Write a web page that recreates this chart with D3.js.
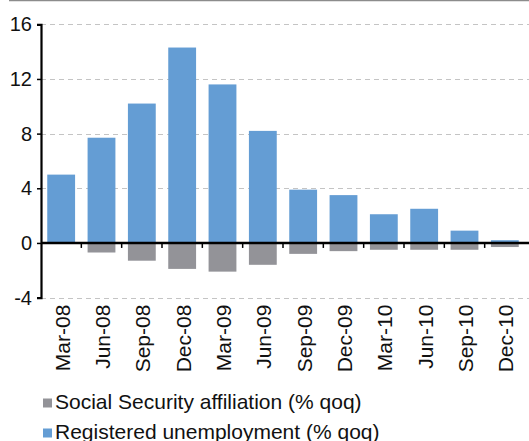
<!DOCTYPE html>
<html>
<head>
<meta charset="utf-8">
<script src="https://cdn.jsdelivr.net/npm/d3@7"></script>
<style>
  html, body { margin: 0; padding: 0; background: #fff; }
  svg { display: block; font-family: "Liberation Sans", Arial, sans-serif; }
</style>
</head>
<body>
<svg id="chart" width="529" height="441"></svg>
<script>
// Quarterly changes, % quarter-on-quarter
const quarters = ["Mar-08", "Jun-08", "Sep-08", "Dec-08", "Mar-09", "Jun-09",
                  "Sep-09", "Dec-09", "Mar-10", "Jun-10", "Sep-10", "Dec-10"];
const unemployment = [5.0, 7.7, 10.2, 14.3, 11.6, 8.2, 3.9, 3.5, 2.1, 2.5, 0.9, 0.2];
const affiliation  = [0.0, -0.7, -1.3, -1.9, -2.1, -1.6, -0.8, -0.6, -0.5, -0.5, -0.5, -0.3];
const yTicks = [-4, 0, 4, 8, 12, 16];
const seriesNames = ["Social Security affiliation (% qoq)", "Registered unemployment (% qoq)"];

const colors = { affiliation: "#939398", unemployment: "#649dd4" };

const svg = d3.select("#chart");
const plot = { left: 41, right: 525, top: 24.3, bottom: 297.6 };

const x = d3.scaleBand()
  .domain(quarters)
  .range([plot.left, plot.right])
  .paddingInner(0.31)
  .paddingOuter(0.155);

const y = d3.scaleLinear()
  .domain([-4, 16])
  .range([plot.bottom, plot.top]);

// frame line across the top
svg.append("line")
  .attr("x1", 9).attr("x2", 529)
  .attr("y1", 0.5).attr("y2", 0.5)
  .attr("stroke", "#8c8c8c").attr("stroke-width", 1.5);

// dashed horizontal gridlines
svg.append("g")
  .selectAll("line")
  .data(yTicks.filter(d => d !== 0))
  .join("line")
  .attr("x1", plot.left).attr("x2", 529)
  .attr("y1", d => Math.round(y(d)) + 0.5)
  .attr("y2", d => Math.round(y(d)) + 0.5)
  .attr("stroke", "#c4c4c4")
  .attr("stroke-dasharray", "5,4");

// unemployment bars
svg.append("g")
  .selectAll("rect")
  .data(quarters.map((q, i) => ({ q, v: unemployment[i] })))
  .join("rect")
  .attr("x", d => x(d.q))
  .attr("width", x.bandwidth())
  .attr("y", d => y(Math.max(0, d.v)))
  .attr("height", d => Math.abs(y(d.v) - y(0)))
  .attr("fill", colors.unemployment);

// affiliation bars
svg.append("g")
  .selectAll("rect")
  .data(quarters.map((q, i) => ({ q, v: affiliation[i] })))
  .join("rect")
  .attr("x", d => x(d.q))
  .attr("width", x.bandwidth())
  .attr("y", d => y(Math.max(0, d.v)))
  .attr("height", d => Math.abs(y(d.v) - y(0)))
  .attr("fill", colors.affiliation);

// y axis
const yAxis = d3.axisLeft(y)
  .tickValues(yTicks)
  .tickSize(4)
  .tickPadding(5)
  .tickFormat(d => String(d));

const gy = svg.append("g")
  .attr("transform", `translate(${plot.left},0)`)
  .call(yAxis);
gy.select(".domain").attr("stroke", "#000").attr("stroke-width", 2.2);
gy.selectAll(".tick line").attr("stroke", "#000").attr("stroke-width", 1.5);
gy.selectAll(".tick text")
  .attr("fill", "#111")
  .style("font-size", "20px")
  .attr("x", -9);

// zero line with ticks between categories
const gx = svg.append("g")
  .attr("transform", `translate(0,${y(0)})`);
gx.append("line")
  .attr("x1", plot.left).attr("x2", 529)
  .attr("stroke", "#000").attr("stroke-width", 2.4);
gx.selectAll(".sep")
  .data(quarters.slice(1))
  .join("line")
  .attr("class", "sep")
  .attr("x1", d => x(d) - x.step() * x.paddingInner() / 2)
  .attr("x2", d => x(d) - x.step() * x.paddingInner() / 2)
  .attr("y1", 0).attr("y2", 5)
  .attr("stroke", "#000").attr("stroke-width", 1.5);

// category labels below the plot, rotated
const xAxis = d3.axisBottom(x).tickSize(0).tickPadding(0);
const gl = svg.append("g")
  .attr("transform", `translate(0,${plot.bottom})`)
  .call(xAxis);
gl.select(".domain").remove();
gl.selectAll(".tick text")
  .attr("fill", "#111")
  .style("font-size", "21px")
  .attr("text-anchor", "end")
  .attr("dy", "0.35em")
  .attr("transform", "translate(1,7) rotate(-90)")
  .attr("x", 0).attr("y", 0);

// legend
const legend = svg.append("g");
const legendItems = [
  { name: seriesNames[0], color: colors.affiliation },
  { name: seriesNames[1], color: colors.unemployment }
];
legendItems.forEach((d, i) => {
  const gy0 = 408.5 + i * 30;
  legend.append("rect")
    .attr("x", 43).attr("y", gy0 - 10)
    .attr("width", 9).attr("height", 9)
    .attr("fill", d.color);
  legend.append("text")
    .attr("x", 55).attr("y", gy0)
    .attr("fill", "#111")
    .style("font-size", "21px")
    .text(d.name);
});
</script>
</body>
</html>
